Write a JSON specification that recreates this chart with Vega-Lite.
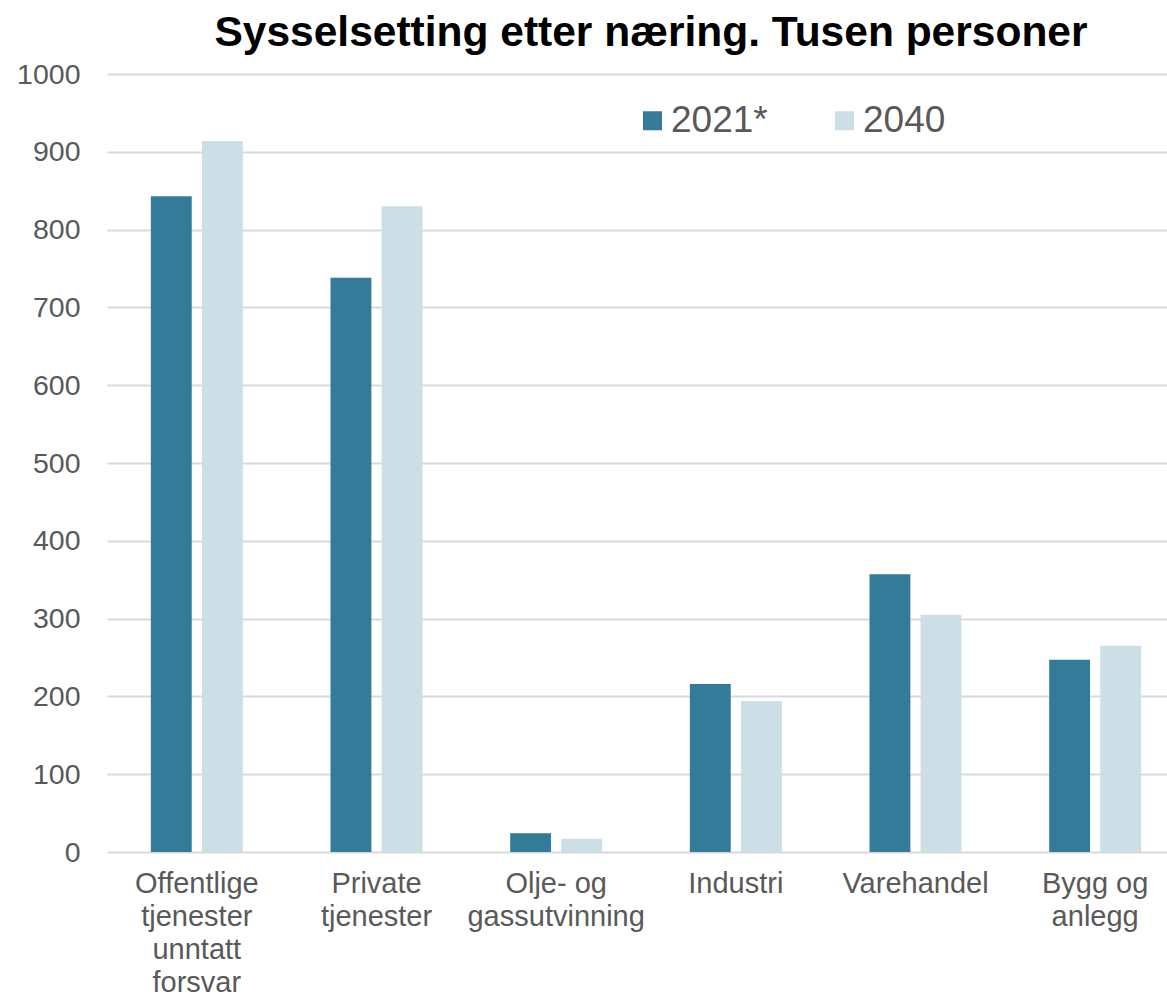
{
  "$schema": "https://vega.github.io/schema/vega-lite/v6.json",
  "autosize": "none",
  "width": 1060,
  "height": 778,
  "padding": {"left": 107, "top": 74, "right": 0, "bottom": 145},
  "background": "white",
  "title": {
    "text": "Sysselsetting etter næring. Tusen personer",
    "font": "Liberation Sans",
    "fontSize": 42.5,
    "fontWeight": "bold",
    "color": "#000000",
    "anchor": "middle",
    "frame": "group",
    "dx": 14,
    "offset": 6
  },
  "data": {
    "values": [
      {"kategori": "Offentlige|tjenester|unntatt|forsvar", "år": "2021*", "verdi": 843},
      {"kategori": "Offentlige|tjenester|unntatt|forsvar", "år": "2040", "verdi": 914},
      {"kategori": "Private|tjenester", "år": "2021*", "verdi": 738},
      {"kategori": "Private|tjenester", "år": "2040", "verdi": 830},
      {"kategori": "Olje- og|gassutvinning", "år": "2021*", "verdi": 24},
      {"kategori": "Olje- og|gassutvinning", "år": "2040", "verdi": 17},
      {"kategori": "Industri", "år": "2021*", "verdi": 216},
      {"kategori": "Industri", "år": "2040", "verdi": 194},
      {"kategori": "Varehandel", "år": "2021*", "verdi": 357},
      {"kategori": "Varehandel", "år": "2040", "verdi": 305},
      {"kategori": "Bygg og|anlegg", "år": "2021*", "verdi": 247},
      {"kategori": "Bygg og|anlegg", "år": "2040", "verdi": 265}
    ]
  },
  "mark": {"type": "bar"},
  "encoding": {
    "x": {
      "field": "kategori",
      "type": "nominal",
      "sort": null,
      "scale": {"range": [0, 1078], "paddingInner": 0.488, "paddingOuter": 0.244},
      "axis": {
        "title": null,
        "labelAngle": 0,
        "labelExpr": "split(datum.label, '|')",
        "labelFont": "Liberation Sans",
        "labelFontSize": 29,
        "labelColor": "#595959",
        "labelLineHeight": 33,
        "labelPadding": 17,
        "labelLimit": 400,
        "ticks": false,
        "domain": false,
        "labelAlign": "center"
      }
    },
    "xOffset": {
      "field": "år",
      "type": "nominal",
      "scale": {"paddingInner": 0.2, "paddingOuter": 0}
    },
    "y": {
      "field": "verdi",
      "type": "quantitative",
      "scale": {"domain": [0, 1000], "nice": false},
      "axis": {
        "title": null,
        "values": [0, 100, 200, 300, 400, 500, 600, 700, 800, 900, 1000],
        "format": "d",
        "labelFont": "Liberation Sans",
        "labelFontSize": 28.5,
        "labelColor": "#595959",
        "labelPadding": 27,
        "ticks": false,
        "domain": false,
        "grid": true,
        "gridColor": "#d9d9d9",
        "gridWidth": 2
      }
    },
    "color": {
      "field": "år",
      "type": "nominal",
      "scale": {"domain": ["2021*", "2040"], "range": ["#347b9a", "#cddfe6"]},
      "legend": {
        "title": null,
        "orient": "none",
        "direction": "horizontal",
        "legendX": 527,
        "legendY": 28,
        "symbolType": "square",
        "symbolSize": 361,
        "symbolStrokeWidth": 0,
        "labelFont": "Liberation Sans",
        "labelFontSize": 37,
        "labelColor": "#595959",
        "labelOffset": 0,
        "columnPadding": 58,
        "labelLimit": 300
      }
    }
  },
  "config": {
    "view": {"stroke": null},
    "axis": {"gridOpacity": 1}
  }
}
